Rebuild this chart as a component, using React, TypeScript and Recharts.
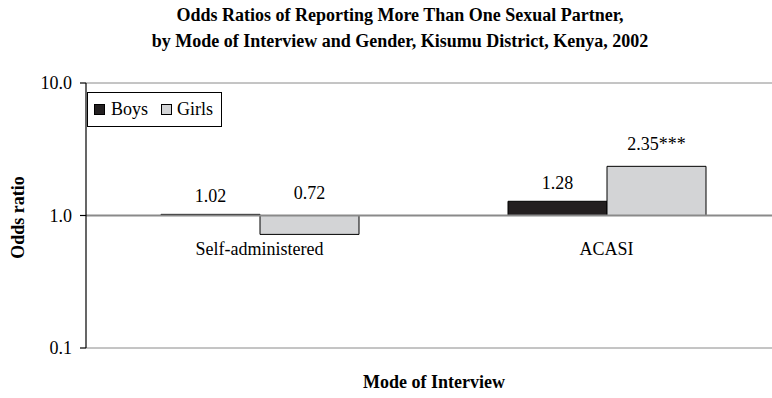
import React from "react";
import { BarChart, Bar, XAxis, YAxis, CartesianGrid, ReferenceLine, LabelList } from "recharts";

const categories = ["Self-administered", "ACASI"];
const boysValues = [1.02, 1.28];
const girlsValues = [0.72, 2.35];
const boysLabels = ["1.02", "1.28"];
const girlsLabels = ["0.72", "2.35***"];
const yTicks = [0.1, 1, 10];

const toRange = (v: number) => (v < 1 ? [v, 1] : [1, v]);

const data = categories.map((c, i) => ({
  name: c,
  boys: toRange(boysValues[i]),
  girls: toRange(girlsValues[i]),
  boysLabel: boysLabels[i],
  girlsLabel: girlsLabels[i],
}));

const FONT = "'Liberation Serif', 'Times New Roman', serif";
const FS = 18;

const CategoryTick = (props: any) => {
  const { x, y, payload } = props;
  // category axis crosses at 1.0 (middle of log range 0.1..10)
  return (
    <text x={x} y={y - 265 / 2 - 2} dy={33} textAnchor="middle" fontFamily={FONT} fontSize={FS} fill="#000">
      {payload.value}
    </text>
  );
};

const YLabel = (props: any) => {
  const vb = props.viewBox || { x: 0, y: 83, width: 86, height: 265 };
  const cx = vb.x + 18;
  const cy = vb.y + vb.height / 2 + 2;
  return (
    <text x={cx} y={cy} transform={`rotate(-90 ${cx} ${cy})`} textAnchor="middle" dominantBaseline="central"
      fontFamily={FONT} fontSize={FS} fontWeight="bold" fill="#000">
      Odds ratio
    </text>
  );
};

export default function App() {
  return (
    <div style={{ position: "absolute", left: 0, top: 0, width: 772, height: 398, overflow: "hidden", background: "#fff", fontFamily: FONT }}>
      <div style={{ position: "absolute", left: 0, top: 2, width: 800, textAlign: "center", fontSize: FS, fontWeight: "bold", lineHeight: "26px", color: "#000" }}>
        Odds Ratios of Reporting More Than One Sexual Partner,
        <br />
        by Mode of Interview and Gender, Kisumu District, Kenya, 2002
      </div>
      <BarChart width={790} height={398} data={data} margin={{ top: 83, right: 10, bottom: 0, left: 0 }} barGap={0} barSize={99}>
        <CartesianGrid horizontal vertical={false} stroke="#8a8a8a" strokeWidth={1} />
        <XAxis dataKey="name" height={50} axisLine={false} tickLine={false} tick={<CategoryTick />} interval={0} />
        <YAxis
          scale="log"
          domain={[0.1, 10]}
          ticks={yTicks}
          allowDataOverflow
          width={86}
          axisLine={{ stroke: "#000", strokeWidth: 1.2 }}
          tickLine={{ stroke: "#000", strokeWidth: 1.2 }}
          tickSize={6}
          tickMargin={8}
          tickFormatter={(v: number) => v.toFixed(1)}
          tick={{ fontFamily: FONT, fontSize: FS, fill: "#000" }}
          label={<YLabel />}
        />
        <ReferenceLine y={1} stroke="#8a8a8a" strokeWidth={2} />
        <Bar dataKey="boys" fill="#231f20" stroke="#000" strokeWidth={1} isAnimationActive={false}>
          <LabelList dataKey="boysLabel" position="top" offset={12.5} style={{ fontFamily: FONT, fontSize: FS, fill: "#000" }} />
        </Bar>
        <Bar dataKey="girls" fill="#d3d4d6" stroke="#000" strokeWidth={1} isAnimationActive={false}>
          <LabelList dataKey="girlsLabel" position="top" offset={16.5} style={{ fontFamily: FONT, fontSize: FS, fill: "#000" }} />
        </Bar>
      </BarChart>
      <div style={{ position: "absolute", left: 87, top: 92, width: 135, height: 35, boxSizing: "border-box", border: "1px solid #000", background: "#fff", display: "flex", alignItems: "center", fontSize: FS, color: "#000" }}>
        <span style={{ display: "inline-block", width: 11, height: 11, boxSizing: "border-box", background: "#231f20", border: "1px solid #000", marginLeft: 6, marginRight: 6 }} />
        <span>Boys</span>
        <span style={{ display: "inline-block", width: 11, height: 11, boxSizing: "border-box", background: "#d3d4d6", border: "1px solid #000", marginLeft: 13, marginRight: 5 }} />
        <span>Girls</span>
      </div>
      <div style={{ position: "absolute", left: 334, top: 372, width: 200, textAlign: "center", fontSize: FS, fontWeight: "bold", color: "#000" }}>
        Mode of Interview
      </div>
    </div>
  );
}
